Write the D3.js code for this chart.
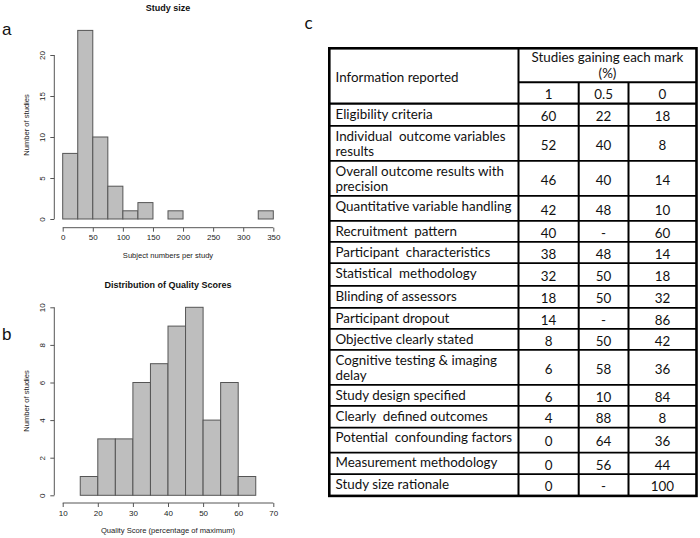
<!DOCTYPE html>
<html><head><meta charset="utf-8">
<script src="https://cdn.jsdelivr.net/npm/d3@7"></script>
<style>body{margin:0;background:#fff}svg{display:block}</style>
</head><body>
<script>
// ---------- data ----------
const sizeEdges = [0,25,50,75,100,125,150,175,200,225,250,275,300,325,350];
const sizeCounts = [8,23,10,4,1,2,0,1,0,0,0,0,0,1];
const sizeXTicks = [0,50,100,150,200,250,300,350];
const sizeYTicks = [0,5,10,15,20];

const scoreEdges = [15,20,25,30,35,40,45,50,55,60,65];
const scoreCounts = [1,3,3,6,7,9,10,4,6,1];
const scoreXTicks = [10,20,30,40,50,60,70];
const scoreYTicks = [0,2,4,6,8,10];

const items = [
  ["Eligibility criteria"],
  ["Individual  outcome variables","results"],
  ["Overall outcome results with","precision"],
  ["Quantitative variable handling"],
  ["Recruitment  pattern"],
  ["Participant  characteristics"],
  ["Statistical  methodology"],
  ["Blinding of assessors"],
  ["Participant dropout"],
  ["Objective clearly stated"],
  ["Cognitive testing & imaging","delay"],
  ["Study design specified"],
  ["Clearly  defined outcomes"],
  ["Potential  confounding factors"],
  ["Measurement methodology"],
  ["Study size rationale"]
];
const mark1   = ["60","52","46","42","40","38","32","18","14","8","6","6","4","0","0","0"];
const mark05  = ["22","40","40","48","-","48","50","50","-","50","58","10","88","64","56","-"];
const mark0   = ["18","8","14","10","60","14","18","32","86","42","36","84","8","36","44","100"];
const markHeads = ["1","0.5","0"];

// ---------- drawing ----------
const W = 700, H = 538;
const svg = d3.select("body").append("svg").attr("width", W).attr("height", H);
const histFont = "'Liberation Sans', Arial, sans-serif";

function hist(o) {
  const g = svg.append("g");
  const x = d3.scaleLinear().domain(o.xDomain).range([62.7, 273.3]);
  const y = d3.scaleLinear().domain(o.yDomain).range(o.yRange);
  const bins = o.counts.map((c, i) => ({x0: o.edges[i], x1: o.edges[i+1], c}));
  g.selectAll("rect").data(bins).join("rect")
    .attr("x", d => x(d.x0)).attr("width", d => x(d.x1) - x(d.x0))
    .attr("y", d => y(d.c)).attr("height", d => y(0) - y(d.c))
    .attr("fill", "#bebebe").attr("stroke", "#555").attr("stroke-width", 1);
  // x axis
  const xa = g.append("g").attr("transform", `translate(0,${o.xAxisY})`)
    .call(d3.axisBottom(x).tickValues(o.xTicks).tickSize(4).tickSizeOuter(0).tickPadding(3));
  xa.select(".domain").remove();
  xa.append("line").attr("x1", x(o.xTicks[0])).attr("x2", x(o.xTicks[o.xTicks.length-1]))
    .attr("stroke", "#555");
  xa.selectAll(".tick line").attr("stroke", "#555");
  xa.selectAll(".tick text").attr("font-family", histFont).attr("font-size", 8).attr("fill", "#222")
    .attr("dy", "0.71em");
  // y axis
  const ya = g.append("g").attr("transform", `translate(54.3,0)`)
    .call(d3.axisLeft(y).tickValues(o.yTicks).tickSize(4).tickSizeOuter(0));
  ya.select(".domain").remove();
  ya.append("line").attr("y1", y(o.yTicks[0])).attr("y2", y(o.yTicks[o.yTicks.length-1]))
    .attr("stroke", "#555");
  ya.selectAll(".tick line").attr("stroke", "#555");
  ya.selectAll(".tick text").attr("font-family", histFont).attr("font-size", 8).attr("fill", "#222")
    .attr("x", null).attr("dy", null)
    .attr("text-anchor", "middle")
    .attr("transform", "translate(-12,0) rotate(-90)")
    .attr("dy", "0.35em");
  // titles
  g.append("text").attr("x", 168).attr("y", o.titleY).attr("text-anchor", "middle")
    .attr("font-family", histFont).attr("font-weight", "bold").attr("font-size", 9)
    .attr("fill", "#111").text(o.title);
  g.append("text").attr("x", 168).attr("y", o.xLabelY).attr("text-anchor", "middle")
    .attr("font-family", histFont).attr("font-size", 7.6).attr("fill", "#222").text(o.xLabel);
  g.append("text").attr("transform", `translate(29,${o.yLabelY}) rotate(-90)`)
    .attr("text-anchor", "middle")
    .attr("font-family", histFont).attr("font-size", 7.6).attr("fill", "#222").text("Number of studies");
  g.append("text").attr("x", o.letterX).attr("y", o.letterY)
    .attr("font-family", histFont).attr("font-size", 17).attr("fill", "#111").text(o.letter);
}

hist({edges: sizeEdges, counts: sizeCounts, xDomain: [0,350], yDomain: [0,20], yRange: [219,55],
  xTicks: sizeXTicks, yTicks: sizeYTicks, xAxisY: 227.7, title: "Study size", titleY: 10.5,
  xLabel: "Subject numbers per study", xLabelY: 258, yLabelY: 125, letter: "a", letterX: 2, letterY: 35});
hist({edges: scoreEdges, counts: scoreCounts, xDomain: [10,70], yDomain: [0,10], yRange: [495.3,307.3],
  xTicks: scoreXTicks, yTicks: scoreYTicks, xAxisY: 503, title: "Distribution of Quality Scores", titleY: 287.5,
  xLabel: "Quality Score (percentage of maximum)", xLabelY: 533, yLabelY: 401, letter: "b", letterX: 2, letterY: 340});

// ---------- table ----------
const tFont = "Lato, 'Open Sans', sans-serif";
const tg = svg.append("g");
const colX = [329.3, 518.5, 578.7, 628.5, 696.5];
const headTop = 48.3, headMid = 82.3, headBot = 103.7;
const rowH = [22.2,35,35,25,21,21.3,22.7,22,21,21,35,21,21.7,25,21.6,21.7];

// calibrate font size to the reference width of the widest label
const probe = tg.append("text").attr("font-family", tFont).attr("font-size", 14).text("Quantitative variable handling");
const fs = 14 * 176 / probe.node().getComputedTextLength();
probe.remove();

const rowTops = [];
let acc = headBot;
rowH.forEach(h => { rowTops.push(acc); acc += h; });
const tableBot = acc;

const txt = (x, y, s, anchor) => tg.append("text").attr("x", x).attr("y", y)
  .attr("text-anchor", anchor || "start").attr("font-family", tFont).attr("font-size", fs)
  .attr("fill", "#111").text(s);

// header
txt(335.5, 81.5, "Information reported");
txt((colX[1]+colX[4])/2, 61.5, "Studies gaining each mark", "middle");
txt((colX[1]+colX[4])/2, 77.5, "(%)", "middle");
markHeads.forEach((m, i) => txt((colX[i+1]+colX[i+2])/2, 98.5, m, "middle"));

// body
const cols = [mark1, mark05, mark0];
items.forEach((lines, r) => {
  const top = rowTops[r], h = rowH[r];
  lines.forEach((l, k) => txt(335.5, top + 14.8 + k * 14.8, l).attr("xml:space", "preserve").style("white-space", "pre"));
  cols.forEach((c, j) => txt((colX[j+1]+colX[j+2])/2, top + h/2 + 6.3, c[r], "middle"));
});

// grid lines
const ln = (x1, y1, x2, y2, w) => tg.append("line").attr("x1", x1).attr("y1", y1).attr("x2", x2).attr("y2", y2)
  .attr("stroke", "#000").attr("stroke-width", w);
ln(colX[1], headMid, colX[4], headMid, 2);
ln(colX[0], headBot, colX[4], headBot, 2.2);
rowTops.slice(1).forEach(t => ln(colX[0], t, colX[4], t, 1.8));
ln(colX[1], headTop, colX[1], tableBot, 2);
ln(colX[2], headMid, colX[2], tableBot, 2);
ln(colX[3], headMid, colX[3], tableBot, 2);
tg.append("rect").attr("x", colX[0]).attr("y", headTop).attr("width", colX[4]-colX[0])
  .attr("height", tableBot-headTop).attr("fill", "none").attr("stroke", "#000").attr("stroke-width", 2.6);

tg.append("text").attr("x", 304.5).attr("y", 28.5).attr("font-family", tFont).attr("font-size", 17)
  .attr("fill", "#111").text("c");
</script>
</body></html>
